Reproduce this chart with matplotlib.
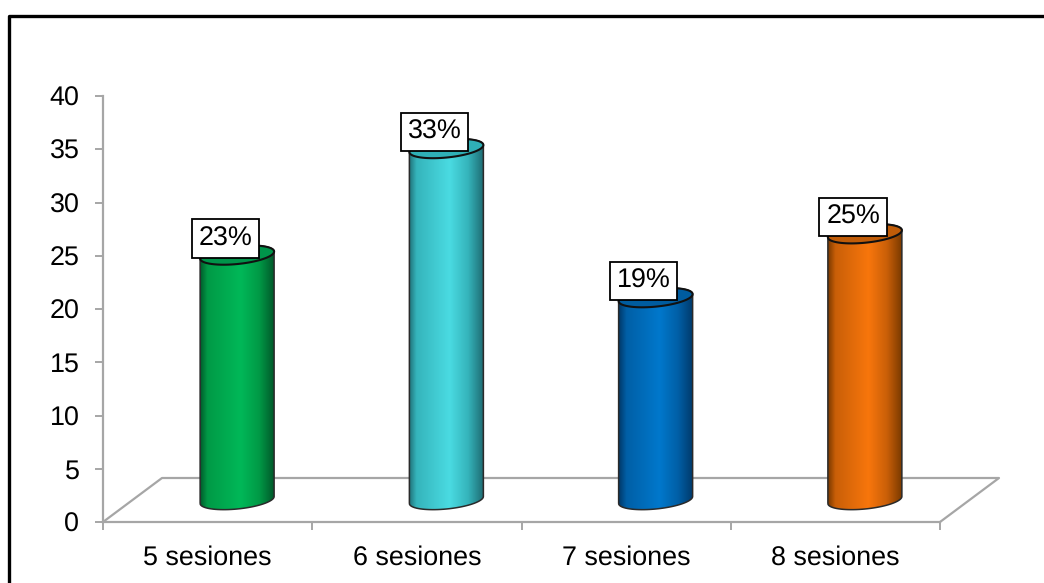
import numpy as np
import matplotlib
matplotlib.use('Agg')
import matplotlib.pyplot as plt
from matplotlib.colors import LinearSegmentedColormap
from matplotlib.patches import PathPatch
from matplotlib.lines import Line2D
from matplotlib.path import Path

plt.rcParams['font.family'] = ['Liberation Sans', 'DejaVu Sans']
plt.rcParams['text.hinting'] = 'no_hinting'

categories = ['5 sesiones', '6 sesiones', '7 sesiones', '8 sesiones']
values = [23, 33, 19, 25]
labels = ['23%', '33%', '19%', '25%']
y_ticks = [0, 5, 10, 15, 20, 25, 30, 35, 40]

# borde, sombra, medio y tapa de cada cilindro
colors = [
    ('#005a2b', '#009a46', '#00b858', '#00944a'),
    ('#1f6f76', '#35b4bb', '#4adbe2', '#2fb0b6'),
    ('#003a6b', '#005fa6', '#0078cc', '#005c9f'),
    ('#7a3a00', '#c95f08', '#f8760c', '#c05c08'),
]

W, H = 1044, 583
fig = plt.figure(figsize=(W / 100, H / 100), dpi=100)
ax = fig.add_axes([103 / W, 1 - 522 / H, (940 - 103) / W, (522 - 96) / H])

grey = '#a6a6a6'
for s in ['top', 'right']:
    ax.spines[s].set_visible(False)
for s in ['left', 'bottom']:
    ax.spines[s].set_color(grey)
    ax.spines[s].set_linewidth(1.6)

ax.set_yticks(y_ticks)
ax.set_xticks(range(5))
ax.set_xticklabels([])
ax.tick_params(axis='both', color=grey, width=1.4, length=6, labelsize=19.4)
ax.tick_params(axis='y', pad=11)
# nombres de categoria centrados en cada tramo
ax.set_xticks(np.arange(4) + 0.5, categories, minor=True)
ax.tick_params(axis='x', which='minor', length=0, labelsize=19.4, pad=17)

# piso en perspectiva
depth_x = 59 / (837 / 4)
depth_y = 44 / (426 / 40)
ax.plot([0, depth_x, 4 + depth_x, 4], [0, depth_y, depth_y, 0],
        color=grey, lw=1.6, clip_on=False, zorder=1)

half_w = 37 / (837 / 4)
semi_h = 9 / (426 / 40)
rise = 3.5 / (426 / 40)  # las elipses suben hacia la derecha
base = depth_y / 2


def ellipse_pts(cx, cy, n=81):
    t = np.linspace(0, 2 * np.pi, n)
    x = cx + half_w * np.cos(t)
    y = cy + semi_h * np.sin(t) + rise * np.cos(t)
    return x, y


for i, (val, lab, col) in enumerate(zip(values, labels, colors)):
    cx = i + 0.5 + depth_x / 2
    top = base + val
    edge, shade, mid, cap = col

    # cuerpo del cilindro con degradado horizontal
    bx, by = ellipse_pts(cx, base)
    tx, ty = ellipse_pts(cx, top)
    verts = list(zip(bx[40:], by[40:])) + list(zip(tx[:41], ty[:41]))
    verts = verts + [verts[0]]
    outline = PathPatch(Path(verts), facecolor='none', edgecolor='#2a2a2a', lw=1.1, zorder=4)
    ax.add_patch(outline)
    cmap = LinearSegmentedColormap.from_list(
        'c', [(0, edge), (0.1, shade), (0.55, mid), (0.8, shade), (1, edge)], N=256)
    grad = np.linspace(0, 1, 256).reshape(1, -1)
    im = ax.imshow(grad, cmap=cmap, aspect='auto', zorder=3,
                   extent=[cx - half_w, cx + half_w, base - 2, top + 2])
    im.set_clip_path(outline)

    # tapa
    ax.fill(tx, ty, facecolor=cap, edgecolor='#111111', lw=1.5, zorder=5)

    # etiqueta del valor
    ax.annotate(lab, xy=(cx, top), xytext=(-8.5, 12), textcoords='offset points',
                ha='center', va='center', fontsize=19.4, zorder=6,
                bbox=dict(boxstyle='square,pad=0.25', fc='white', ec='black', lw=1.3))

ax.set_xlim(0, 4)
ax.set_ylim(0, 40)

# marco exterior: solo arriba e izquierda
fig.add_artist(Line2D([8.5 / W, 8.5 / W, 1], [0, 1 - 15.5 / H, 1 - 15.5 / H],
                      color='black', lw=2.4, transform=fig.transFigure))

fig.savefig('out.png', dpi=100)
